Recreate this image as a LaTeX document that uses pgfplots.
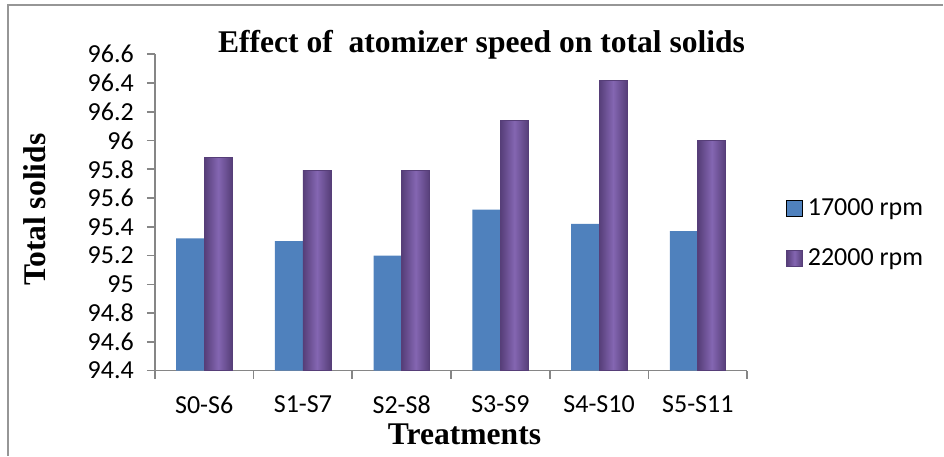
\documentclass[border=0pt]{standalone}
\usepackage{fontspec}
\setmainfont{Liberation Serif}
\newfontfamily\calibri{Carlito}
\usepackage{pgfplots}
\pgfplotsset{compat=1.18}
\definecolor{blueS}{RGB}{79,129,189}
\definecolor{purpS}{RGB}{132,102,178}
\definecolor{purpD}{RGB}{86,62,120}
\definecolor{axgray}{RGB}{134,134,134}
\definecolor{framegray}{RGB}{150,150,150}

\begin{document}
\begin{tikzpicture}[x=0.5pt,y=0.5pt]
\path (0,0) rectangle (944,456);
\draw[framegray, line width=1pt] (8,0) -- (8,451) -- (944,451);
\begin{axis}[
  at={(77.5pt,42.5pt)}, anchor=south west,
  scale only axis, width=296.5pt, height=158.35pt,
  ymin=94.4, ymax=96.6, xmin=-0.5, xmax=5.5,
  ytick={94.4,94.6,94.8,95,95.2,95.4,95.6,95.8,96,96.2,96.4,96.6},
  xtick={-0.5,0.5,1.5,2.5,3.5,4.5,5.5},
  x tick label as interval=true,
  xticklabels={S0-S6,S1-S7,S2-S8,S3-S9,S4-S10,S5-S11},
  axis x line*=bottom, axis y line*=left,
  axis line style={-, axgray, line width=0.8pt},
  tick style={axgray, line width=0.8pt},
  tick align=outside, major tick length=4pt,
  tick label style={font=\calibri\fontsize{13}{15}\selectfont},
  /pgf/number format/.cd, fixed, precision=1, assume math mode=true, /pgfplots/.cd,
  yticklabel style={xshift=-3pt},
  xticklabel style={yshift=-5pt},
  legend style={at={(1.065,0.433)}, anchor=west, draw=none, fill=none,
    font=\calibri\fontsize{13}{15}\selectfont, row sep=11pt,
    inner sep=0pt, nodes={inner xsep=2.5pt}},
  legend cell align=left,
  legend image code/.code={\draw[#1] (0pt,-4pt) rectangle (8pt,4pt);},
  purp/.style={ybar, bar width=14pt, bar shift=7pt, draw=purpD, line width=0.4pt,
    left color=purpD, right color=purpD, middle color=purpS},
]
\addplot[ybar, bar width=14pt, bar shift=-7pt, fill=blueS, draw=none]
  coordinates {(0,95.32) (1,95.30) (2,95.20) (3,95.52) (4,95.42) (5,95.37)};
\addlegendentry{17000 rpm}
\addplot[purp] coordinates {(0,95.88)};
\addlegendentry{22000 rpm}
\addplot[purp, forget plot] coordinates {(1,95.79)};
\addplot[purp, forget plot] coordinates {(2,95.79)};
\addplot[purp, forget plot] coordinates {(3,96.14)};
\addplot[purp, forget plot] coordinates {(4,96.42)};
\addplot[purp, forget plot] coordinates {(5,96.00)};
\end{axis}
\node[font=\bfseries\fontsize{15.8}{18}\selectfont] at (482,411) {Effect of\ \ atomizer speed on total solids};
\node[font=\bfseries\fontsize{15.8}{18}\selectfont, rotate=90] at (35,246) {Total solids};
\node[font=\bfseries\fontsize{15.8}{18}\selectfont] at (465,21) {Treatments};
\end{tikzpicture}
\end{document}
